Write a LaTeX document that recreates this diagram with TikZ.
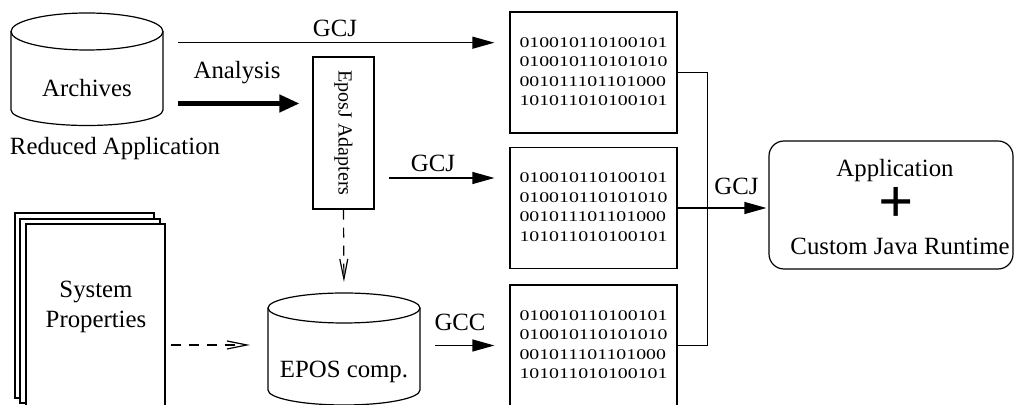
\documentclass[tikz,border=0pt]{standalone}
\usepackage{fontspec}
\setmainfont{Liberation Serif}
\usepackage{graphicx}
\usetikzlibrary{arrows.meta,positioning}
\newcommand{\binlines}{\scalebox{1.34}[1]{\fontsize{7.4}{9.8}\selectfont
    \begin{tabular}{@{}l@{}}010010110100101\\010010110101010\\001011101101000\\101011010100101\end{tabular}}}
\tikzset{
    diagram-label/.style = {font=\fontsize{12.4}{15}\selectfont, inner sep=0pt},
    cyl-line/.style = {line width=0.6pt},
    page-sheet/.style = {draw, fill=white, line width=0.6pt},
    bin-box/.style = {draw, line width=0.6pt, minimum width=83.5pt, minimum height=60.5pt, inner sep=0pt},
    adapter-box/.style = {draw, line width=0.6pt, minimum width=30.5pt, minimum height=76pt, inner sep=0pt, font=\fontsize{10}{12}\selectfont},
    app-box/.style = {draw, line width=0.6pt, rounded corners=7.5pt, minimum width=122pt, minimum height=64pt},
    plus-sign/.style = {font=\fontsize{31}{31}\selectfont\bfseries, inner sep=0pt, text height=15pt, text depth=0pt},
    gcj-arrow/.style = {-{Triangle[length=11pt, width=6pt]}, line width=0.6pt},
    thick-arrow/.style = {-{Triangle[length=10pt, width=8.5pt]}, line width=2.2pt},
    dash-arrow/.style = {-{Straight Barb[length=10pt, width=4pt]}, line width=0.6pt, dash pattern=on 5pt off 4pt},
    bus-line/.style = {line width=0.6pt},
}

\begin{document}
\begin{tikzpicture}[x=0.5pt, y=-0.5pt]
\useasboundingbox (0,0) rectangle (1014,405);
\clip (0,0) rectangle (1014,405);

% archives
\draw[cyl-line] (87,31.5) ellipse [x radius=76, y radius=18.5];
\draw[cyl-line] (11,31.5) -- (11,110) arc [start angle=180, end angle=0, x radius=76, y radius=15.5] -- (163,31.5);
\node[diagram-label] (arch) at (87,88) {Archives};
\node[diagram-label] (reduced) at (115,149) {Reduced Application};

\node[adapter-box] (adapt) at (343.5,133) {\rotatebox{-90}{EposJ Adapters}};

\node[bin-box] (bin1) at (593.5,72.5) {\binlines};
\node[bin-box] (bin2) at (593.5,208) {\binlines};
\node[bin-box] (bin3) at (593.5,345.5) {\binlines};

\node[app-box] (app) at (891,205) {};
\node[diagram-label] (apptitle) at (895,171) {Application};
\node[plus-sign] (plus) at (896,208) {+};
\node[diagram-label] (runtime) at (900,246) {Custom Java Runtime};

% system properties
\draw[page-sheet] (15,213) rectangle (154,398);
\draw[page-sheet] (20,219) rectangle (160,403);
\node[page-sheet, minimum width=69.5pt, minimum height=95.5pt] (props) at (95.5,319.5) {};
\node[diagram-label, align=center] (proptxt) at (96,307) {System\\Properties};

% epos
\draw[cyl-line] (344,308) ellipse [x radius=76, y radius=15];
\draw[cyl-line] (268,308) -- (268,390) arc [start angle=180, end angle=0, x radius=76, y radius=15] -- (420,308);
\node[diagram-label] (epos) at (344,372) {EPOS comp.};
\coordinate (eposN) at (344,293);
\coordinate (eposW) at (268,345);

\coordinate (gcjA) at (178,42.7);
\draw[gcj-arrow, shorten >=7.5pt] (gcjA) -- (gcjA -| bin1.west);
\node[diagram-label] (gcj1) at (335,28) {GCJ};
\coordinate (anaA) at (178,103.5);
\draw[thick-arrow, shorten >=6.5pt] (anaA) -- (anaA -| adapt.west);
\node[diagram-label] (analysis) at (237,73) {Analysis};
\coordinate (gcjB) at (389,178);
\draw[gcj-arrow, shorten >=7.5pt] (gcjB) -- (gcjB -| bin2.west);
\node[diagram-label] (gcj2) at (433,163) {GCJ};
\coordinate (gccA) at (435,345.5);
\draw[gcj-arrow, shorten >=7.5pt] (gccA) -- (gccA -| bin3.west);
\node[diagram-label] (gcc) at (460,322) {GCC};

\draw[dash-arrow, shorten >=5.5pt] (adapt.south) -- (eposN);
\draw[dash-arrow, shorten <=2.5pt, shorten >=9pt] (props.east |- eposW) -- (eposW);

\draw[bus-line] (bin1.east) -- ++(30,0) |- (bin3.east);
\draw[gcj-arrow, shorten >=1pt] (bin2.east) -- (bin2.east -| app.west);
\node[diagram-label] (gcj3) at (736.5,186) {GCJ};
\end{tikzpicture}
\end{document}
